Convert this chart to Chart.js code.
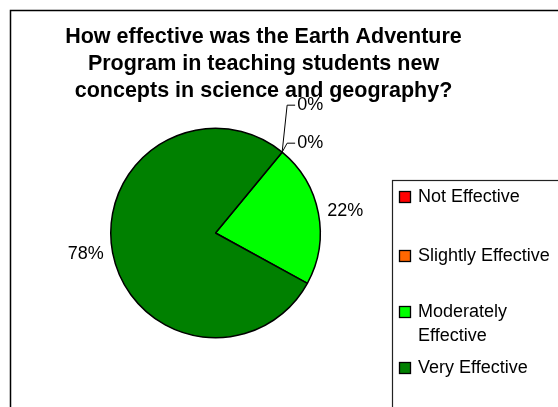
<!DOCTYPE html>
<html>
<head>
<meta charset="utf-8">
<script src="https://cdn.jsdelivr.net/npm/chart.js@4.4.0/dist/chart.umd.min.js"></script>
<style>
    html, body { margin: 0; padding: 0; background: #fff; }
    #wrap { width: 558px; height: 407px; }
</style>
</head>
<body>
<div id="wrap"><canvas id="effectChart" width="558" height="407"></canvas></div>
<script>
// chart data
const categories = ['Not Effective', 'Slightly Effective', 'Moderately Effective', 'Very Effective'];
const legendLines = [['Not Effective'], ['Slightly Effective'], ['Moderately', 'Effective'], ['Very Effective']];
const percentValues = [0, 0, 22, 78];
const sliceColors = ['#FF0000', '#FF6600', '#00FF00', '#008000'];
const titleLines = [
    'How effective was the Earth Adventure',
    'Program in teaching students new',
    'concepts in science and geography?'
];

const FONT = '"Liberation Sans", Arial, sans-serif';

// draws the frame, title, legend and the percent labels (with leaders for the 0% slices)
const excelLook = {
    id: 'excelLook',
    afterDraw(chart) {
        const ctx = chart.ctx;
        ctx.save();

        // outer frame
        ctx.strokeStyle = '#000';
        ctx.lineWidth = 1.5;
        ctx.strokeRect(10.5, 10.5, 700, 600);

        // title
        ctx.fillStyle = '#000';
        ctx.font = 'bold 21.5px ' + FONT;
        ctx.textAlign = 'center';
        ctx.textBaseline = 'alphabetic';
        titleLines.forEach((line, i) => ctx.fillText(line, 263.5, 43 + i * 27));

        // slice labels
        const meta = chart.getDatasetMeta(0);
        const data = chart.data.datasets[0].data;
        const total = data.reduce((a, b) => a + b, 0);
        ctx.font = '18px ' + FONT;
        ctx.textBaseline = 'middle';
        ctx.lineWidth = 1;
        const zeroIdx = data.map((v, i) => v === 0 ? i : -1).filter(i => i >= 0);
        meta.data.forEach((arc, i) => {
            const p = arc.getProps(['x', 'y', 'startAngle', 'endAngle', 'outerRadius'], true);
            const txt = Math.round(data[i] / total * 100) + '%';
            if (data[i] > 0) {
                const mid = (p.startAngle + p.endAngle) / 2;
                const r = p.outerRadius + 9;
                ctx.textAlign = Math.cos(mid) >= 0 ? 'left' : 'right';
                ctx.fillText(txt, p.x + Math.cos(mid) * r, p.y + Math.sin(mid) * r);
            } else {
                const k = zeroIdx.length - 1 - zeroIdx.indexOf(i);
                const ex = p.x + Math.cos(p.startAngle) * p.outerRadius;
                const ey = p.y + Math.sin(p.startAngle) * p.outerRadius;
                const bx = ex + 5;
                const by = ey - 9 - 38 * k;
                ctx.beginPath();
                ctx.moveTo(ex, ey);
                ctx.lineTo(bx, by);
                ctx.lineTo(bx + 8, by);
                ctx.stroke();
                ctx.textAlign = 'left';
                ctx.fillText(txt, bx + 10, by);
            }
        });

        // legend
        ctx.strokeStyle = '#222';
        ctx.lineWidth = 1.2;
        ctx.strokeRect(392.5, 180.5, 300, 300);
        const rowY = [197, 256, 312, 368];
        ctx.font = '18px ' + FONT;
        ctx.textAlign = 'left';
        legendLines.forEach((lines, i) => {
            const y = rowY[i];
            ctx.fillStyle = sliceColors[i];
            ctx.fillRect(399.5, y - 5.5, 11, 11);
            ctx.strokeStyle = '#000';
            ctx.lineWidth = 1.3;
            ctx.strokeRect(399.5, y - 5.5, 11, 11);
            ctx.fillStyle = '#000';
            lines.forEach((t, j) => ctx.fillText(t, 418, y + j * 24));
        });

        ctx.restore();
    }
};

const ctx = document.getElementById('effectChart');
new Chart(ctx, {
    type: 'pie',
    data: {
        labels: categories,
        datasets: [{
            data: percentValues,
            backgroundColor: sliceColors,
            borderColor: '#000',
            borderWidth: 1.5
        }]
    },
    options: {
        responsive: false,
        animation: false,
        events: [],
        rotation: 39.5,
        layout: {
            padding: { left: 110, right: 237, top: 127.5, bottom: 68.5 }
        },
        plugins: {
            legend: { display: false },
            title: { display: false },
            tooltip: { enabled: false }
        }
    },
    plugins: [excelLook]
});
</script>
</body>
</html>
